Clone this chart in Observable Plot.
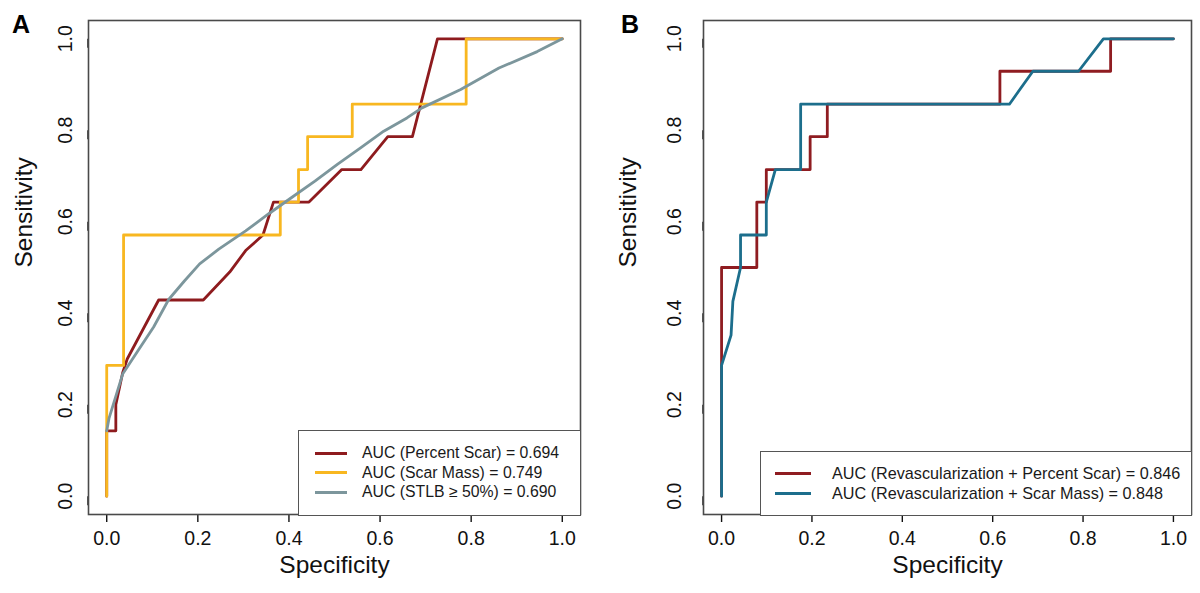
<!DOCTYPE html>
<html><head><meta charset="utf-8">
<script src="https://cdn.jsdelivr.net/npm/d3@7"></script>
<script src="https://cdn.jsdelivr.net/npm/@observablehq/plot@0.6"></script>
<style>
body{margin:0;background:#fff;font-family:"Liberation Sans",Arial,sans-serif;}
#wrap{position:relative;width:1200px;height:593px;overflow:hidden;background:#fff}
.panel{position:absolute;top:0}
.tag{position:absolute;font-weight:bold;font-size:25px;line-height:24px;color:#000}
.legend{position:absolute;border:1.6px solid #555;background:#fff;box-sizing:border-box}
.row{position:absolute;white-space:nowrap;line-height:20px;color:#1a1a1a}
.sw{position:absolute;height:3px}
</style></head><body><div id="wrap"></div>
<script>
// Shared axis ticks
const tickValues = [0, 0.2, 0.4, 0.6, 0.8, 1.0];
const tickLabels = ["0.0", "0.2", "0.4", "0.6", "0.8", "1.0"];

// Panel A series
const aNames = ["AUC (Percent Scar) = 0.694", "AUC (Scar Mass) = 0.749", "AUC (STLB \u2265 50%) = 0.690"];
const aColors = ["#8E1B1E", "#F8B720", "#7C969C"];
const pctScarX = [0, 0, 0.02, 0.02, 0.035, 0.045, 0.114, 0.212, 0.27, 0.305, 0.343, 0.366, 0.444, 0.516, 0.558, 0.617, 0.671, 0.726, 1];
const pctScarY = [0, 0.143, 0.143, 0.2, 0.27, 0.3, 0.429, 0.429, 0.49, 0.537, 0.571, 0.643, 0.643, 0.714, 0.714, 0.786, 0.786, 1, 1];
const scarMassX = [0, 0, 0.037, 0.037, 0.381, 0.381, 0.421, 0.421, 0.441, 0.441, 0.539, 0.539, 0.789, 0.789, 1];
const scarMassY = [0, 0.286, 0.286, 0.571, 0.571, 0.643, 0.643, 0.714, 0.714, 0.786, 0.786, 0.857, 0.857, 1, 1];
const stlbX = [0, 0.005, 0.035, 0.07, 0.103, 0.136, 0.17, 0.204, 0.246, 0.305, 0.355, 0.406, 0.457, 0.507, 0.558, 0.608, 0.659, 0.692, 0.777, 0.861, 0.945, 1];
const stlbY = [0.143, 0.17, 0.267, 0.32, 0.37, 0.43, 0.47, 0.508, 0.54, 0.58, 0.617, 0.653, 0.689, 0.726, 0.762, 0.798, 0.827, 0.849, 0.889, 0.936, 0.972, 1];

// Panel B series
const bNames = ["AUC (Revascularization + Percent Scar) = 0.846", "AUC (Revascularization + Scar Mass) = 0.848"];
const bColors = ["#8F1C21", "#1C6E8C"];
const revPctX = [0, 0, 0.078, 0.078, 0.099, 0.099, 0.196, 0.196, 0.234, 0.234, 0.616, 0.616, 0.861, 0.861, 1];
const revPctY = [0, 0.5, 0.5, 0.643, 0.643, 0.714, 0.714, 0.786, 0.786, 0.857, 0.857, 0.929, 0.929, 1, 1];
const revMassX = [0, 0, 0.021, 0.025, 0.042, 0.042, 0.099, 0.099, 0.119, 0.175, 0.175, 0.637, 0.689, 0.79, 0.845, 1];
const revMassY = [0, 0.286, 0.352, 0.426, 0.5, 0.571, 0.571, 0.643, 0.714, 0.714, 0.857, 0.857, 0.929, 0.929, 1, 1];

function table(names, xsList, ysList) {
  const rows = [];
  names.forEach((n, k) => xsList[k].forEach((x, i) => rows.push({s: n, x, y: ysList[k][i]})));
  return rows;
}

const fmt = d => tickLabels[tickValues.indexOf(d)];

function panel(data, names, colors, o) {
  return Plot.plot({
    width: 600, height: 593,
    marginLeft: o.ml, marginRight: o.mr, marginTop: 20, marginBottom: 79,
    x: {domain: [-0.04, 1.04]},
    y: {domain: [-0.04, 1.04]},
    color: {domain: names, range: colors},
    style: {fontFamily: "Liberation Sans, Arial, sans-serif", background: "white", color: "#111", overflow: "visible"},
    marks: [
      Plot.axisX({ticks: tickValues, tickFormat: fmt, tickSize: 8, tickPadding: 9, fontSize: 19.5, label: null, strokeWidth: 1.4}),
      Plot.axisY({ticks: tickValues, tickFormat: fmt, tickSize: 9, tickPadding: o.yp, fontSize: 19.5, label: null, strokeWidth: 1.4,
                  rotate: -90, textAnchor: "middle", lineAnchor: "bottom"}),
      Plot.line(data, {x: "x", y: "y", z: "s", stroke: "s", strokeWidth: 2.8}),
      Plot.frame({stroke: "#4a4a4a", strokeWidth: 1.6}),
      Plot.text(["Specificity"], {frameAnchor: "bottom", text: d => d, dy: 58, fontSize: 24.5, fill: "#111"}),
      Plot.text(["Sensitivity"], {frameAnchor: "left", text: d => d, dx: o.sdx, rotate: -90, fontSize: 24.5, fill: "#111"})
    ]
  });
}

const wrap = document.getElementById("wrap");
function place(el, left) { el.classList.add("panel"); el.style.left = left + "px"; wrap.appendChild(el); }

place(panel(table(aNames, [pctScarX, scarMassX, stlbX], [pctScarY, scarMassY, stlbY]), aNames, aColors, {ml: 88, mr: 20, yp: 8, sdx: -64}), 0);
place(panel(table(bNames, [revPctX, revMassX], [revPctY, revMassY]), bNames, bColors, {ml: 103, mr: 9, yp: 14, sdx: -75}), 600);

function legend(names, colors, box) {
  const lg = document.createElement("div");
  lg.className = "legend";
  Object.assign(lg.style, {left: box.left + "px", top: box.top + "px", width: box.w + "px", height: box.h + "px"});
  names.forEach((n, i) => {
    const cy = box.first + i * box.step;
    const sw = document.createElement("div");
    sw.className = "sw";
    Object.assign(sw.style, {left: box.swx + "px", width: box.sww + "px", top: (cy - 1.5) + "px", background: colors[i]});
    const t = document.createElement("div");
    t.className = "row";
    t.textContent = n;
    Object.assign(t.style, {left: box.tx + "px", top: (cy - 10) + "px", fontSize: box.fs + "px"});
    lg.appendChild(sw); lg.appendChild(t);
  });
  wrap.appendChild(lg);
}
legend(aNames, aColors, {left: 298, top: 430, w: 283, h: 86, first: 22, step: 19.5, swx: 16, sww: 32, tx: 63, fs: 15.8});
legend(bNames, bColors, {left: 760, top: 451, w: 432, h: 65, first: 21, step: 20, swx: 14, sww: 36, tx: 71, fs: 16.2});

function tag(txt, left) {
  const d = document.createElement("div");
  d.className = "tag"; d.textContent = txt;
  d.style.left = left + "px"; d.style.top = "12px";
  wrap.appendChild(d);
}
tag("A", 12); tag("B", 621);
</script></body></html>
